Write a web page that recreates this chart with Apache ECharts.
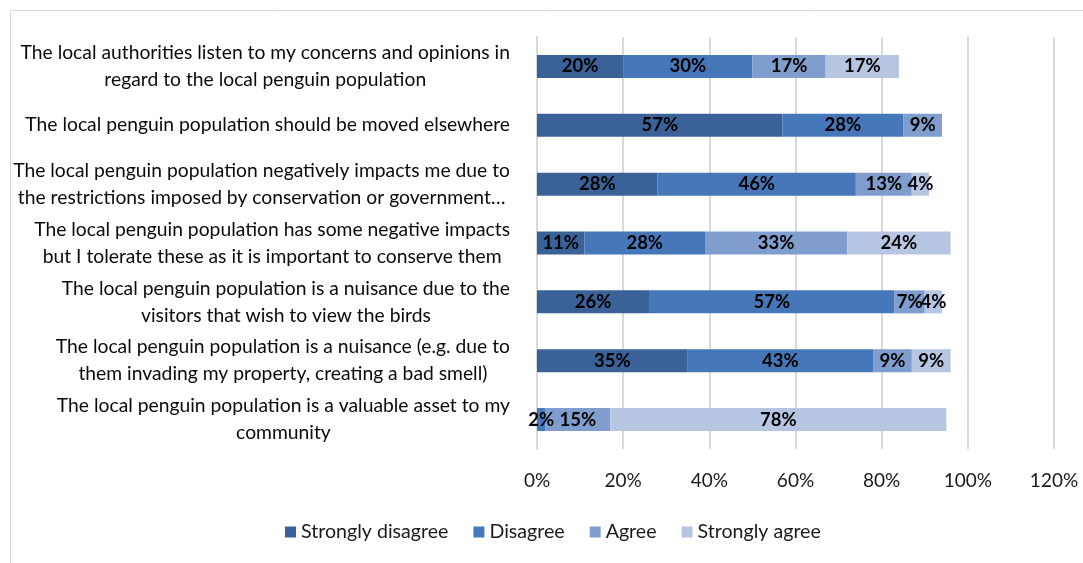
<!DOCTYPE html>
<html>
<head>
<meta charset="utf-8">
<script src="https://cdn.jsdelivr.net/npm/echarts@6/dist/echarts.min.js"></script>
<style>html,body{margin:0;padding:0;background:#fff}#c{width:1083px;height:563px}</style>
</head>
<body>
<div id="c"></div>
<script>
// Categories, bottom to top (as drawn on the category axis)
const categories = [
  "The local penguin population is a valuable asset to my\ncommunity",
  "The local penguin population is a nuisance (e.g. due to\nthem invading my property, creating a bad smell)",
  "The local penguin population is a nuisance due to the\nvisitors that wish to view the birds",
  "The local penguin population has some negative impacts\nbut I tolerate these as it is important to conserve them",
  "The local penguin population negatively impacts me due to\nthe restrictions imposed by conservation or government…",
  "The local penguin population should be moved elsewhere",
  "The local authorities listen to my concerns and opinions in\nregard to the local penguin population"
];
const seriesNames = ["Strongly disagree", "Disagree", "Agree", "Strongly agree"];
const stronglyDisagree = [null, 35, 26, 11, 28, 57, 20];
const disagree         = [2,    43, 57, 28, 46, 28, 30];
const agree            = [15,   9,  7,  33, 13, 9,  17];
const stronglyAgree    = [78,   9,  4,  24, 4,  null, 17];
const xTicks = { min: 0, max: 120, interval: 20 };

const colors = ["#3a6298", "#4677b8", "#7f9dcd", "#b6c5e2"];
const font = "Lato, 'Open Sans', sans-serif";

const chart = echarts.init(document.getElementById('c'), null, { renderer: 'canvas' });
const dataSets = [stronglyDisagree, disagree, agree, stronglyAgree];

chart.setOption({
  animation: false,
  backgroundColor: '#ffffff',
  graphic: [{
    type: 'rect', left: 8, top: 8, z: -1,
    shape: { width: 1100, height: 600 },
    style: { fill: 'none', stroke: '#d9d9d9', lineWidth: 1 }
  }],
  grid: { left: 537, right: 29, top: 37, bottom: 114, containLabel: false },
  legend: {
    bottom: 16, left: 280,
    itemWidth: 11, itemHeight: 11, itemGap: 25,
    icon: 'rect',
    textStyle: { fontFamily: font, fontSize: 19.6, color: '#1a1a1a' },
    data: seriesNames
  },
  xAxis: {
    type: 'value', min: xTicks.min, max: xTicks.max, interval: xTicks.interval,
    axisLine: { show: false }, axisTick: { show: false },
    splitLine: { lineStyle: { color: '#d9d9d9', width: 2 } },
    axisLabel: { formatter: '{value}%', fontFamily: font, fontSize: 19, color: '#1a1a1a', margin: 22 }
  },
  yAxis: {
    type: 'category', data: categories,
    axisLine: { show: true, lineStyle: { color: '#d9d9d9', width: 2 } },
    axisTick: { show: false },
    axisLabel: {
      margin: 27, align: 'right', color: '#0a0a0a',
      fontFamily: font, fontSize: 19.3, lineHeight: 27,
      formatter: function (v) { return v.split('\n').map(l => '{c|' + l + '}').join('\n'); },
      rich: { c: { align: 'center', fontFamily: font, fontSize: 19.3, lineHeight: 27, color: '#0a0a0a' } }
    }
  },
  series: dataSets.map((d, i) => ({
    name: seriesNames[i], type: 'bar', stack: 'total', barWidth: 23,
    data: d,
    itemStyle: { color: colors[i] },
    label: {
      show: true, position: 'inside', color: '#000', fontWeight: 'bold',
      fontFamily: font, fontSize: 18.5,
      formatter: p => (p.value == null ? '' : p.value + '%')
    }
  }))
});
</script>
</body>
</html>
